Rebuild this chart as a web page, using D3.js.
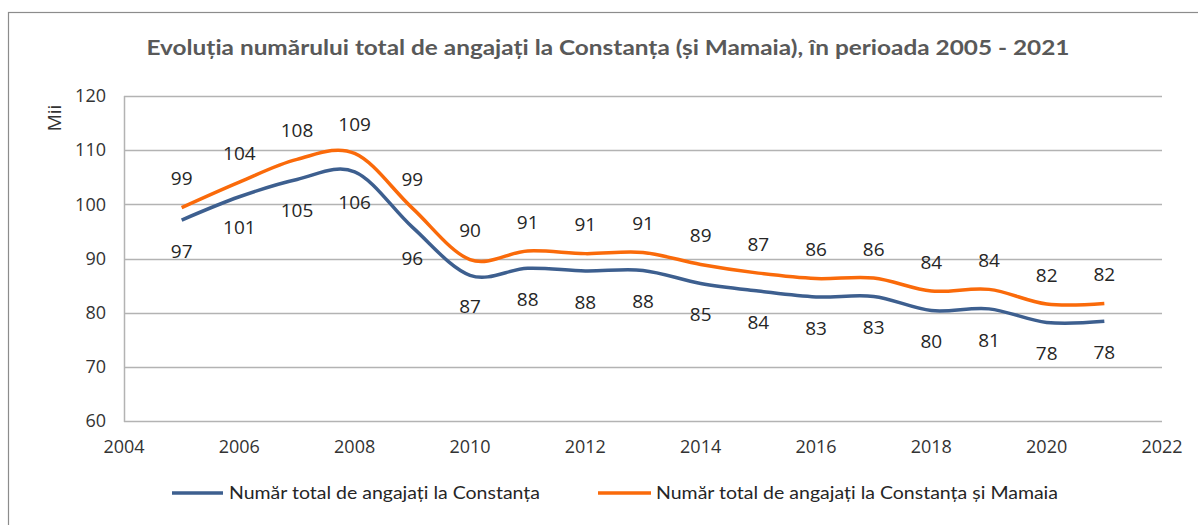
<!DOCTYPE html>
<html>
<head>
<meta charset="utf-8">
<script src="https://cdn.jsdelivr.net/npm/d3@7"></script>
<style>
  body { margin: 0; background: #fff; }
  svg { display: block; }
</style>
</head>
<body>
<svg id="chart" width="1198" height="525"></svg>
<script>
// DATA (thousands of employees)
var years = [2005, 2006, 2007, 2008, 2009, 2010, 2011, 2012, 2013, 2014, 2015, 2016, 2017, 2018, 2019, 2020, 2021]
var constanta = [97.1, 101.4, 104.6, 106.0, 95.8, 86.9, 88.2, 87.7, 87.8, 85.4, 84.0, 82.9, 83.0, 80.4, 80.7, 78.2, 78.4]
var constantaMamaia = [99.4, 104.1, 108.3, 109.4, 99.3, 89.8, 91.4, 90.9, 91.1, 88.9, 87.3, 86.3, 86.4, 84.0, 84.3, 81.6, 81.7]
var xTicks = [2004, 2006, 2008, 2010, 2012, 2014, 2016, 2018, 2020, 2022]
var yTicks = [60, 70, 80, 90, 100, 110, 120]

var titleText = 'Evoluția numărului total de angajați la Constanța (și Mamaia), în perioada 2005 - 2021'
var seriesNames = ['Număr total de angajați la Constanța', 'Număr total de angajați la Constanța și Mamaia']
var colors = ['#3d5f8f', '#fa6a0a']

var svg = d3.select('#chart')
var numFont = '"Open Sans", "Noto Sans", sans-serif'
var textFont = 'Lato, "Liberation Sans", sans-serif'

// outer frame of the Excel chart
svg.append('rect')
  .attr('x', 8.5).attr('y', 12.5)
  .attr('width', 1300).attr('height', 600)
  .attr('fill', 'none')
  .attr('stroke', '#8c8c8c')
  .attr('stroke-width', 1.2)

var plot = {left: 124, right: 1162, top: 96, bottom: 421}

var x = d3.scaleLinear().domain([2004, 2022]).range([plot.left, plot.right])
var y = d3.scaleLinear().domain([60, 120]).range([plot.bottom, plot.top])

// Title
svg.append('text')
  .attr('x', 608).attr('y', 55)
  .attr('text-anchor', 'middle')
  .attr('textLength', 923)
  .attr('lengthAdjust', 'spacingAndGlyphs')
  .style('font-family', textFont)
  .style('font-weight', 'bold')
  .style('font-size', '20px')
  .attr('fill', '#595959')
  .text(titleText)

// Horizontal gridlines
svg.append('g')
  .selectAll('line')
  .data(yTicks)
  .join('line')
    .attr('x1', plot.left).attr('x2', plot.right)
    .attr('y1', d => Math.round(y(d)) + 0.5)
    .attr('y2', d => Math.round(y(d)) + 0.5)
    .attr('stroke', '#b3b3b3')
    .attr('stroke-width', 1.5)

// Left axis line
svg.append('line')
  .attr('x1', plot.left + 0.5).attr('x2', plot.left + 0.5)
  .attr('y1', plot.top).attr('y2', plot.bottom + 1)
  .attr('stroke', '#b3b3b3')
  .attr('stroke-width', 1.5)

// Y tick labels
svg.append('g')
  .selectAll('text')
  .data(yTicks)
  .join('text')
    .attr('x', 106)
    .attr('y', d => y(d))
    .attr('dy', '0.35em')
    .attr('text-anchor', 'end')
    .style('font-family', numFont)
    .style('font-size', '18px')
    .attr('fill', '#333')
    .text(d => d)

// X tick labels
svg.append('g')
  .selectAll('text')
  .data(xTicks)
  .join('text')
    .attr('x', d => x(d))
    .attr('y', 447)
    .attr('dy', '0.35em')
    .attr('text-anchor', 'middle')
    .style('font-family', numFont)
    .style('font-size', '18px')
    .attr('fill', '#333')
    .text(d => d)

// Y axis title
svg.append('text')
  .attr('transform', 'translate(54,118) rotate(-90)')
  .attr('dy', '0.35em')
  .attr('text-anchor', 'middle')
  .style('font-family', numFont)
  .style('font-size', '19px')
  .attr('fill', '#333')
  .text('Mii')

// Lines (Excel smoothed line ~ cardinal with tension 0)
var line = d3.line()
  .x(d => x(d[0]))
  .y(d => y(d[1]))
  .curve(d3.curveCardinal.tension(0))

var series = [constanta, constantaMamaia]
series.forEach(function (vals, i) {
  svg.append('path')
    .datum(years.map((yr, j) => [yr, vals[j]]))
    .attr('d', line)
    .attr('fill', 'none')
    .attr('stroke', colors[i])
    .attr('stroke-width', 3.5)
    .attr('stroke-linejoin', 'round')
})

// Data labels: blue below, orange above
series.forEach(function (vals, i) {
  var off = i == 0 ? 31 : -29
  svg.append('g')
    .selectAll('text')
    .data(years.map((yr, j) => [yr, vals[j]]))
    .join('text')
      .attr('x', d => x(d[0]))
      .attr('y', d => y(d[1]) + off)
      .attr('dy', '0.35em')
      .attr('text-anchor', 'middle')
      .style('font-family', numFont)
      .style('font-size', '19px')
      .attr('fill', '#262626')
      .text(d => Math.round(d[1]))
})

// Legend
var legend = [
  {x1: 172, x2: 223, tx: 229, tw: 311},
  {x1: 598, x2: 651, tx: 656, tw: 402}
]
legend.forEach(function (l, i) {
  svg.append('line')
    .attr('x1', l.x1).attr('x2', l.x2)
    .attr('y1', 493).attr('y2', 493)
    .attr('stroke', colors[i])
    .attr('stroke-width', 3.5)
  svg.append('text')
    .attr('x', l.tx).attr('y', 493)
    .attr('dy', '0.35em')
    .attr('textLength', l.tw)
    .attr('lengthAdjust', 'spacingAndGlyphs')
    .style('font-family', textFont)
    .style('font-size', '17px')
    .attr('fill', '#262626')
    .text(seriesNames[i])
})
</script>
</body>
</html>
